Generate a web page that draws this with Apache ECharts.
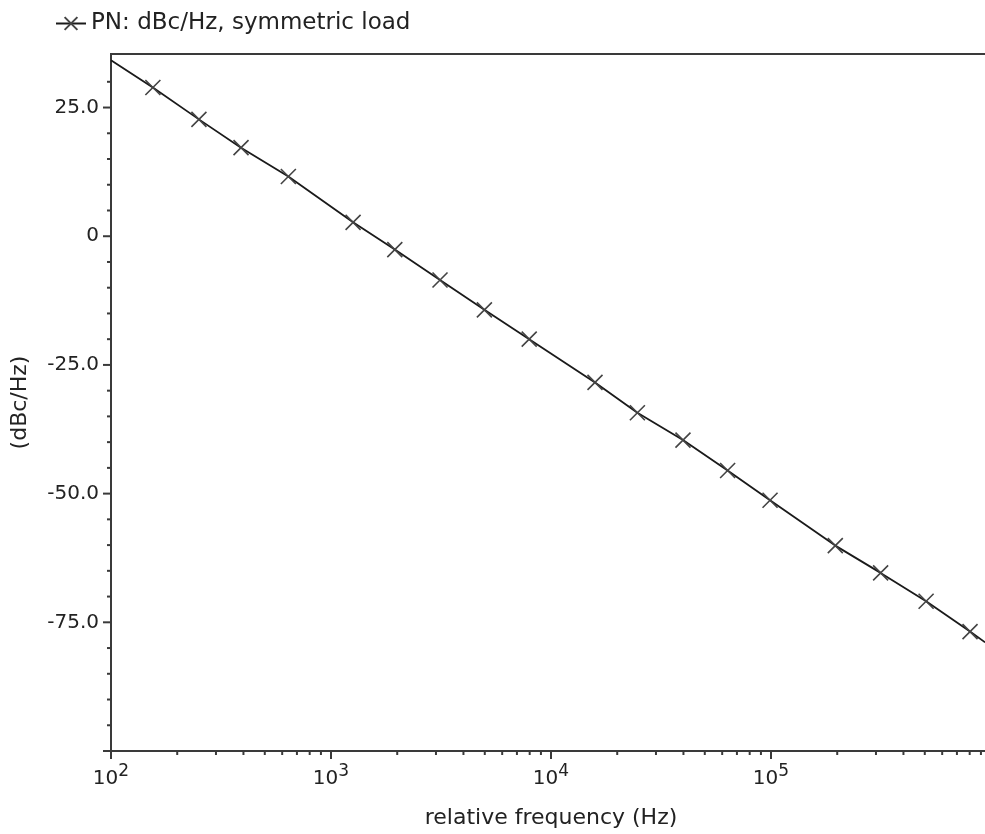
<!DOCTYPE html>
<html><head><meta charset="utf-8">
<script src="https://cdn.jsdelivr.net/npm/echarts@6/dist/echarts.min.js"></script>
<style>html,body{margin:0;padding:0;background:#fff}#c{width:985px;height:834px}</style>
</head><body><div id="c"></div>
<script>
// ---- data ----
const seriesName = 'PN: dBc/Hz, symmetric load';
const freqHz   = [100, 155, 251, 390, 640, 1260, 1950, 3130, 4980, 7960, 15850, 24700, 39800, 63500, 99000, 196000, 315000, 507000, 803000, 940000];
const pnDbcHz  = [34.2, 28.9, 22.7, 17.2, 11.6, 2.7, -2.6, -8.5, -14.3, -20.0, -28.4, -34.3, -39.6, -45.5, -51.3, -60.1, -65.4, -70.9, -76.8, -78.9];
const hasMarker = [0, 1, 1, 1, 1, 1, 1, 1, 1, 1, 1, 1, 1, 1, 1, 1, 1, 1, 1, 0];
const yTickLabels = [25, 0, -25, -50, -75];
const yMajorTicks = [25, 0, -25, -50, -75, -100];
const yMinorTicks = [30, 20, 15, 10, 5, -5, -10, -15, -20, -30, -35, -40, -45, -55, -60, -65, -70, -80, -85, -90, -95];
const xMinorTicks = [200,300,400,500,600,700,800,900,
  2000,3000,4000,5000,6000,7000,8000,9000,
  20000,30000,40000,50000,60000,70000,80000,90000,
  200000,300000,400000,500000,600000,700000,800000,900000];
const xMin = 100, xMax = 1000000, yMin = -100, yMax = 35.4;

const FONT = '"DejaVu Sans", Verdana, sans-serif';
const AX = '#3a3a3a';
const TXT = '#222';
const chart = echarts.init(document.getElementById('c'), null, {renderer: 'canvas'});

const lineData = freqHz.map((f, i) => hasMarker[i] ? [f, pnDbcHz[i]] : {value: [f, pnDbcHz[i]], symbol: 'none'});

const tickSeries = (data, dir) => ({
  type: 'custom', coordinateSystem: 'cartesian2d', silent: true, clip: false, z: 5,
  data: data,
  renderItem: function (params, api) {
    const p = api.coord([api.value(0), api.value(1)]);
    const len = api.value(2);
    const shape = dir === 'y'
      ? {x1: p[0] - len, y1: p[1], x2: p[0], y2: p[1]}
      : {x1: p[0], y1: p[1], x2: p[0], y2: p[1] + len};
    return {type: 'line', shape: shape, style: {stroke: AX, lineWidth: 2}};
  }
});

chart.setOption({
  animation: false,
  backgroundColor: '#fff',
  textStyle: {fontFamily: FONT},
  grid: {left: 111, top: 54, right: -6, bottom: 83, show: true, borderColor: AX, borderWidth: 2, outerBoundsMode: 'none', containLabel: false},
  legend: {
    data: [seriesName], left: 50, top: 7, itemWidth: 30, itemHeight: 16, itemGap: 4,
    textStyle: {fontFamily: FONT, fontSize: 23, color: TXT}
  },
  xAxis: {
    type: 'log', logBase: 10, min: xMin, max: xMax,
    name: 'relative frequency (Hz)', nameLocation: 'middle', nameGap: 56,
    nameTextStyle: {fontFamily: FONT, fontSize: 22, color: TXT},
    axisLine: {show: true, onZero: false, lineStyle: {color: AX, width: 2}},
    axisTick: {show: true, inside: false, length: 8, lineStyle: {color: AX, width: 2}},
    splitLine: {show: false},
    axisLabel: {
      margin: 12, color: TXT, fontFamily: FONT, fontSize: 20, showMaxLabel: false,
      formatter: v => '10{s|' + Math.round(Math.log10(v)) + '}',
      rich: {s: {fontSize: 17, fontFamily: FONT, color: TXT, padding: [0, 0, 14, 0]}}
    }
  },
  yAxis: {
    type: 'value', min: yMin, max: yMax, interval: 25,
    name: '(dBc/Hz)', nameLocation: 'middle', nameGap: 80, nameRotate: 90,
    nameTextStyle: {fontFamily: FONT, fontSize: 22, color: TXT},
    axisLine: {show: true, onZero: false, lineStyle: {color: AX, width: 2}},
    axisTick: {show: false},
    splitLine: {show: false},
    axisLabel: {
      margin: 12, color: TXT, fontFamily: FONT, fontSize: 20,
      formatter: v => yTickLabels.indexOf(v) >= 0 ? (v === 0 ? '0' : v.toFixed(1)) : ''
    }
  },
  series: [
    {
      name: seriesName, type: 'line', data: lineData,
      symbol: 'path://M0,0L10,10M10,0L0,10', symbolSize: 15, showAllSymbol: true,
      lineStyle: {color: '#1a1a1a', width: 1.8},
      itemStyle: {color: '#444', borderColor: '#444', borderWidth: 1.6},
      z: 3
    },
    tickSeries(yMajorTicks.map(v => [xMin, v, 8]).concat(yMinorTicks.map(v => [xMin, v, 4])), 'y'),
    tickSeries(xMinorTicks.map(f => [f, yMin, 4]), 'x')
  ]
});
</script></body></html>
